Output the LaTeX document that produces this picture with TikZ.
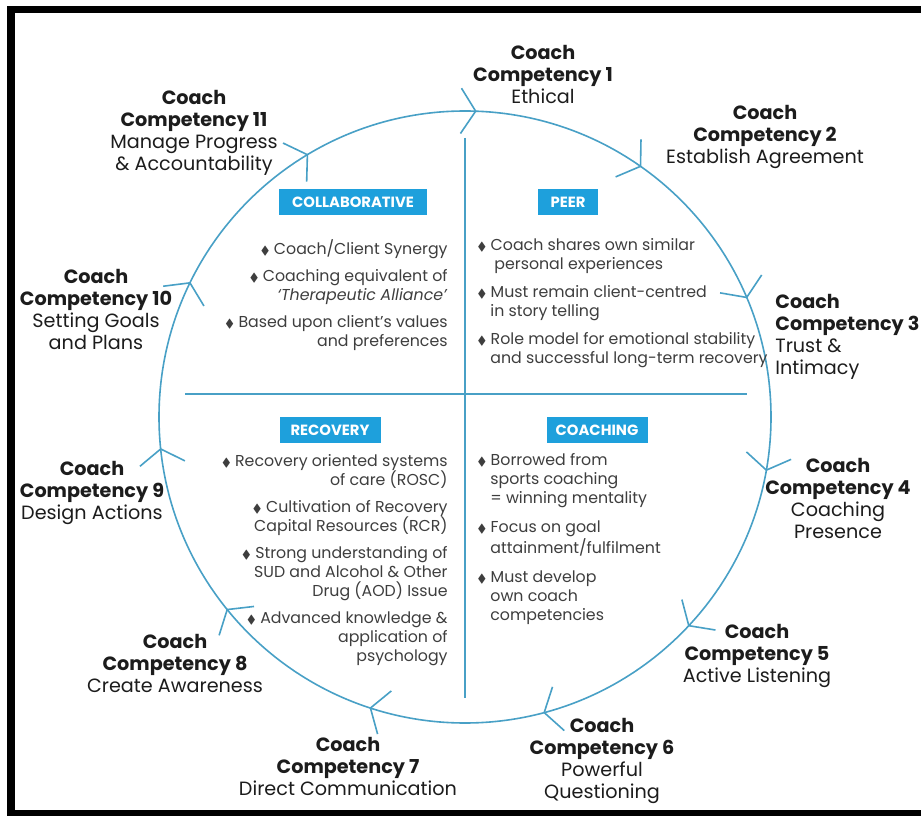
\documentclass[tikz,border=0pt]{standalone}
\usepackage{fontspec}
\setmainfont{Poppins}
\usepackage{amssymb}
\usepackage{graphicx}
\usetikzlibrary{positioning}
\definecolor{ringblue}{RGB}{72,160,198}
\definecolor{tagblue}{RGB}{30,160,220}
\definecolor{inkgray}{RGB}{62,62,62}
\definecolor{inkdark}{RGB}{28,28,28}
\newcommand{\bul}{\scalebox{0.75}{$\blacklozenge$}\ }
\newcommand{\ind}{\hspace*{6.5pt}}
\newcommand{\comp}[2]{\textbf{Coach}\\\textbf{Competency #1}\\#2}

\begin{document}
\begin{tikzpicture}[x=0.5pt,y=0.5pt,
    comp/.style={align=center,font=\fontsize{9.6}{11}\selectfont,text=inkdark,inner sep=0pt},
    tag/.style={fill=tagblue,text=white,font=\bfseries\fontsize{7.4}{8}\selectfont,
      minimum height=13pt,inner sep=0pt},
    point/.style={font=\fontsize{7.9}{9.5}\selectfont,text=inkgray,inner sep=0pt},
    wheel/.style={ringblue,line width=0.8pt}]
  \useasboundingbox (0,0) rectangle (921,815);
  \fill[white] (0,0) rectangle (921,815);
  % frame (open on the right)
  \draw[line width=3.7pt,line join=miter] (921,805.5) -- (11,805.5) -- (11,1.5) -- (921,1.5);

  % the cycle of competencies
  \node[draw,wheel,circle,minimum size=306pt,inner sep=0pt,outer sep=0pt] (ring) at (465,398) {};
  \foreach \k in {0,...,10}{
    \pgfmathsetmacro{\a}{mod(88.7-\k*360/11+720,360)}
    \draw[wheel] (ring.\a) ++(\a+147:27) -- (ring.\a) -- ++(\a+33:27);
  }
  \coordinate (top) at (465,677);
  \coordinate (bottom) at (465,117);
  \coordinate (left) at (185,421);
  \coordinate (right) at (747,421);
  \draw[wheel] (top) -- (bottom);
  \draw[wheel] (left) -- (right);

  % quadrant tags
  \node[tag,minimum width=74pt] (collab) at (353,613) {COLLABORATIVE};
  \node[tag,minimum width=30pt] (peer) at (568,613) {PEER};
  \node[tag,minimum width=50.5pt] (recov) at (330,385) {RECOVERY};
  \node[tag,minimum width=50.5pt] (coach) at (597,385) {COACHING};

  % quadrant points
  \node[point,align=right,anchor=north east] (collabtxt) at (448,576)
    {\bul Coach/Client Synergy\\[4pt]
     \bul Coaching equivalent of\\
     \textit{‘Therapeutic Alliance’}\\[4pt]
     \bul Based upon client’s values\\
     and preferences};
  \node[point,align=left,anchor=north west] (peertxt) at (477,577)
    {\bul Coach shares own similar\\
     \hspace*{8.5pt}personal experiences\\[4.5pt]
     \bul Must remain client-centred\\
     \ind in story telling\\[4.5pt]
     \bul Role model for emotional stability\\
     \ind and successful long-term recovery};
  \node[point,align=right,anchor=north east] (recovtxt) at (448,361)
    {\bul Recovery oriented systems\\
     of care (ROSC)\\[4pt]
     \bul Cultivation of Recovery\\
     Capital Resources (RCR)\\[4pt]
     \bul Strong understanding of\\
     SUD and Alcohol \& Other\\
     Drug (AOD) Issue\\[4pt]
     \bul Advanced knowledge \&\\
     application of\\
     psychology};
  \node[point,align=left,anchor=north west] (coachtxt) at (477,362)
    {\bul Borrowed from\\
     \ind sports coaching\\
     \ind = winning mentality\\[5pt]
     \bul Focus on goal\\
     \ind attainment/fulfilment\\[5pt]
     \bul Must develop\\
     \ind own coach\\
     \ind competencies};

  % competency labels round the ring
  \node[comp] (c1) at (543,740.5) {\comp{1}{Ethical}};
  \node[comp] (c2) at (765,678.5) {\comp{2}{Establish Agreement}};
  \node[comp,align=left,anchor=west] (c3) at (775,478.5) {\comp{3}{Trust \&\\Intimacy}};
  \node[comp] (c4) at (838,317) {\comp{4}{Coaching\\Presence}};
  \node[comp] (c5) at (757,159.5) {\comp{5}{Active Listening}};
  \node[comp] (c6) at (602,54) {\comp{6}{Powerful\\Questioning}};
  \node[comp] (c7) at (348,48.5) {\comp{7}{Direct Communication}};
  \node[comp] (c8) at (175,152) {\comp{8}{Create Awareness}};
  \node[comp] (c9) at (92,322) {\comp{9}{Design Actions}};
  \node[comp] (c10) at (96,506) {\comp{10}{Setting Goals\\and Plans}};
  \node[comp] (c11) at (194,682.5) {\comp{11}{Manage Progress\\\& Accountability}};
\end{tikzpicture}
\end{document}
